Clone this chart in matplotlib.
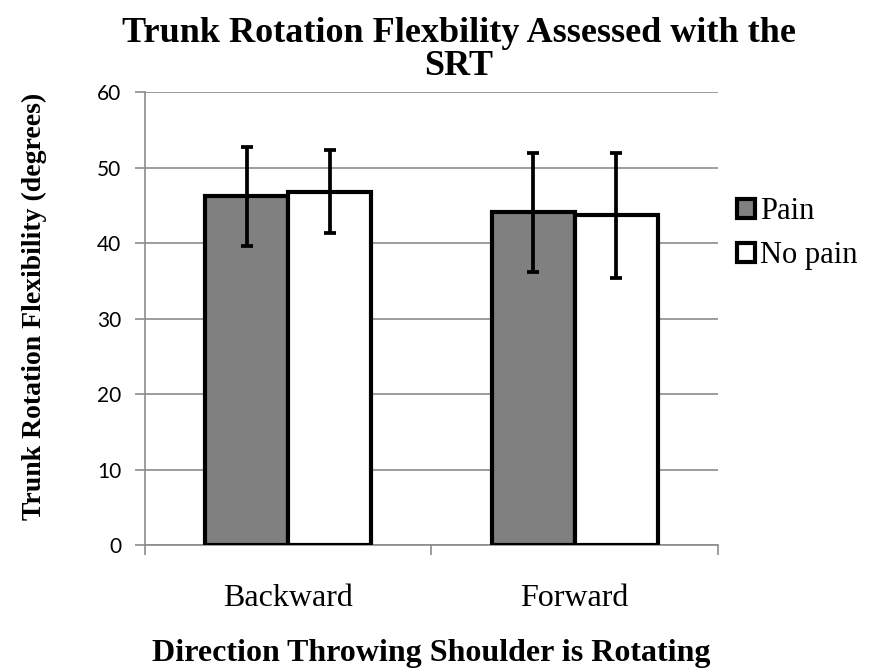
import numpy as np
import matplotlib.pyplot as plt
from matplotlib.patches import Patch

categories = ["Backward", "Forward"]
series = ["Pain", "No pain"]
pain = [46.2, 44.1]
pain_err = [6.5, 7.9]
no_pain = [46.8, 43.7]
no_pain_err = [5.5, 8.3]
colors = ["#808080", "#ffffff"]

serif = "Liberation Serif"

fig = plt.figure(figsize=(8.71, 6.72), dpi=100)
ax = fig.add_axes([0.1665, 0.189, 0.6578, 0.6735])

x = np.arange(len(categories))
w = 0.29
err_kw = dict(ecolor="black", elinewidth=2.7, capsize=4.3, capthick=2.7)
ax.bar(x - w / 2, pain, w, yerr=pain_err, color=colors[0], edgecolor="black",
       linewidth=3, error_kw=err_kw, zorder=3)
ax.bar(x + w / 2, no_pain, w, yerr=no_pain_err, color=colors[1], edgecolor="black",
       linewidth=3, error_kw=err_kw, zorder=3)

ax.set_xlim(-0.5, 1.5)
ax.set_ylim(0, 60)
ax.set_yticks(range(0, 61, 10))
ax.yaxis.grid(True, color="#8c8c8c", linewidth=1.2, zorder=0)
ax.set_axisbelow(True)

ax.set_xticks(x)
ax.set_xticklabels(categories, fontfamily=serif, fontsize=23)
ax.set_xticks([-0.5, 0.5, 1.5], minor=True)
ax.tick_params(axis="x", which="major", length=0, pad=28)
ax.tick_params(axis="x", which="minor", length=7, color="#8c8c8c", width=1.2)
ax.tick_params(axis="y", length=7, color="#8c8c8c", width=1.2, labelsize=15, pad=10)
for lbl in ax.get_yticklabels():
    lbl.set_fontfamily("Lato")

for s in ["top", "right"]:
    ax.spines[s].set_visible(False)
for s in ["left", "bottom"]:
    ax.spines[s].set_color("#8c8c8c")
    ax.spines[s].set_linewidth(1.2)

ax.set_ylabel("Trunk Rotation Flexibility (degrees)", fontfamily=serif,
              fontweight="bold", fontsize=20, labelpad=36)
ax.yaxis.label.set_y(0.528)
ax.set_xlabel("Direction Throwing Shoulder is Rotating", fontfamily=serif,
              fontweight="bold", fontsize=23, labelpad=19)

fig.text(0.527, 0.975, "Trunk Rotation Flexbility Assessed with the\nSRT",
         ha="center", va="top", fontfamily=serif, fontweight="bold",
         fontsize=26, linespacing=1.0)

handles = [Patch(facecolor=c, edgecolor="black", linewidth=3) for c in colors]
fig.legend(handles, series, loc="upper left", bbox_to_anchor=(0.832, 0.725),
           frameon=False, prop={"family": serif, "size": 22},
           handlelength=0.6, handleheight=0.6, handletextpad=0.15,
           labelspacing=0.5, borderaxespad=0)

fig.savefig("out.png", dpi=100)
